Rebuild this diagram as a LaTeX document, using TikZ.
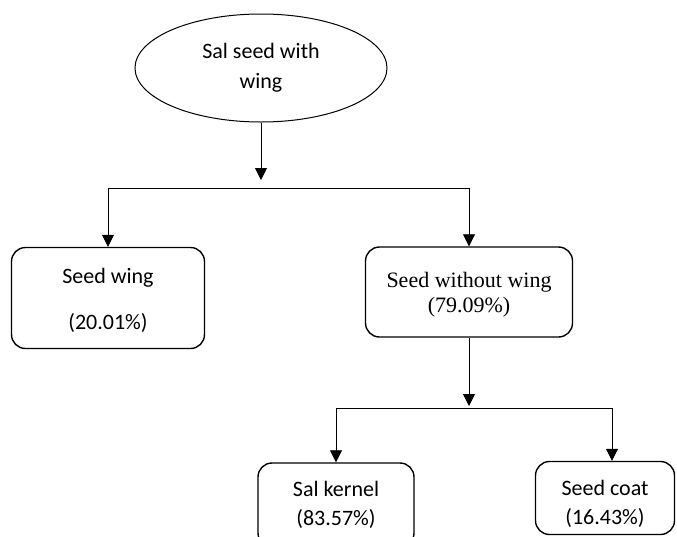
\documentclass[tikz,border=0pt]{standalone}
\usepackage{fontspec}
\usepackage{tikz}
\usetikzlibrary{shapes.geometric, positioning, arrows.meta, calc}
\newfontfamily\carlito{Carlito}
\newfontfamily\timesfont{Liberation Serif}
\tikzset{
    every node/.style={ % Sets the properties for each part
        align=center,
        inner sep=0pt
    },
    whole/.style={ % The seed before it is split
        draw, ellipse,
        line width=1pt,
        font=\carlito\fontsize{22}{30}\selectfont
    },
    part/.style={ % Sets the properties for each fraction
        draw,
        line width=1.4pt,
        rounded corners=14pt,
        font=\carlito\fontsize{22}{29}\selectfont
    },
    every edge/.style={ % Sets the properties for each connector
        draw,
        ->,>={Triangle[length=12pt,width=12pt]}, % Filled triangle heads
        line width=0.8pt
    },
}

\begin{document}
\begin{tikzpicture}[x=1pt, y=1pt]
            \useasboundingbox (0,0) rectangle (677,-536);
            \node[whole, minimum width=252pt, minimum height=108pt]         (seed)   at (261,-68)  {Sal seed with\\wing};
            \node[part, minimum width=193pt, minimum height=101pt,
                  font=\carlito\fontsize{22}{46}\selectfont]                 (wing)   at (108,-298) {\rule{0pt}{21pt}Seed wing\\(20.01\%)};
            \node[part, minimum width=207pt, minimum height=90pt,
                  font=\timesfont\fontsize{22}{25}\selectfont]               (nowing) at (469,-292) {\rule{0pt}{20pt}Seed without wing\\(79.09\%)};
            \node[part, minimum width=156pt, minimum height=84pt]          (kernel) at (336,-505) {Sal kernel\\(83.57\%)};
            \node[part, minimum width=139pt, minimum height=73pt]          (coat)   at (605,-498) {\rule{0pt}{27pt}Seed coat\\(16.43\%)};
            \coordinate (fork1)  at (261,-180);
            \coordinate (bar1)   at (0,-188);
            \coordinate (bar2)   at (0,-408);
            \coordinate (fork2)  at ($(nowing.south |- bar2)+(0,2)$);
            \coordinate (coatin) at (612,-408);
            \draw   (seed) edge[]                       (fork1)
                    (wing.north |- bar1) edge[-]        (nowing.north |- bar1)
                    (wing.north |- bar1) edge[]         (wing)
                    (nowing.north |- bar1) edge[]       (nowing)
                    (nowing) edge[]                     (fork2)
                    (kernel.north |- bar2) edge[-]      (coatin)
                    (kernel.north |- bar2) edge[]       (kernel)
                    (coatin) edge[]                     (coatin |- coat.north)
            ;
        \end{tikzpicture}
\end{document}
